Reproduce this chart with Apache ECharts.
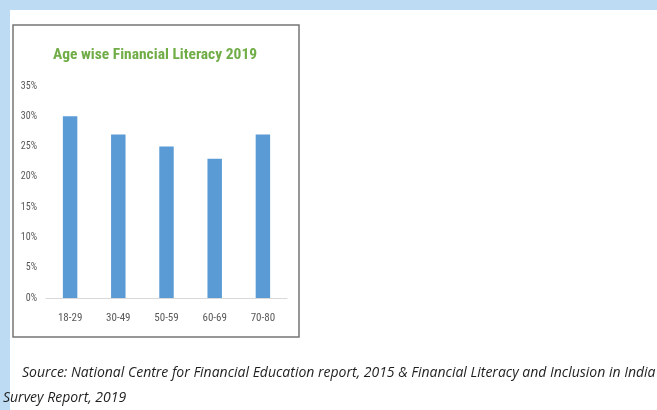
<!DOCTYPE html>
<html>
<head>
<meta charset="utf-8">
<script src="https://cdn.jsdelivr.net/npm/echarts@6/dist/echarts.min.js"></script>
<style>
  html, body { margin: 0; padding: 0; background: #ffffff; }
  #chart { width: 657px; height: 410px; }
</style>
</head>
<body>
<div id="chart"></div>
<script>
// Age groups and the share of financially literate adults in each (percent)
const ageGroups = ['18-29', '30-49', '50-59', '60-69', '70-80'];
const literacyPct = [30, 27, 25, 23, 27];
const titleText = 'Age wise Financial Literacy 2019';
const sourceLine1 = 'Source: National Centre for Financial Education report, 2015 & Financial Literacy and Inclusion in India';
const sourceLine2 = 'Survey Report, 2019';

const narrow = '"Liberation Sans Narrow", "Arial Narrow", "Roboto Condensed", "Liberation Sans", sans-serif';
const noteFont = '"Open Sans", "Noto Sans", sans-serif';

const chart = echarts.init(document.getElementById('chart'), null, { renderer: 'canvas' });

chart.setOption({
  backgroundColor: '#ffffff',
  animation: false,
  grid: {
    left: 46,
    right: 370,
    top: 86,
    bottom: 112,
    containLabel: false
  },
  xAxis: {
    type: 'category',
    data: ageGroups,
    axisLine: { show: true, lineStyle: { color: '#d9d9d9', width: 1 } },
    axisTick: { show: false },
    axisLabel: {
      margin: 15,
      fontFamily: narrow,
      fontSize: 11,
      color: '#595959'
    }
  },
  yAxis: {
    type: 'value',
    min: 0,
    max: 35,
    interval: 5,
    splitLine: { show: false },
    axisLine: { show: false },
    axisTick: { show: false },
    axisLabel: {
      margin: 9,
      formatter: '{value}%',
      fontFamily: narrow,
      fontSize: 10,
      color: '#595959'
    }
  },
  series: [{
    type: 'bar',
    data: literacyPct,
    barWidth: '30%',
    itemStyle: { color: '#5b9bd5' }
  }],
  graphic: [
    // page frame: light blue strips on top and left
    { type: 'rect', z: -10, shape: { x: 0, y: 0, width: 657, height: 10 }, style: { fill: '#bddcf3' } },
    { type: 'rect', z: -10, shape: { x: 0, y: 0, width: 10, height: 410 }, style: { fill: '#bddcf3' } },
    // chart box border
    { type: 'rect', z: -5, shape: { x: 13, y: 25, width: 286, height: 312 },
      style: { fill: 'none', stroke: '#767676', lineWidth: 1.5 } },
    // chart title
    { type: 'text', x: 155, y: 55,
      style: { text: titleText, fontFamily: narrow, fontSize: 15.5, fontWeight: 'bold',
               fill: '#70ad47', align: 'center', verticalAlign: 'middle' } },
    // source note
    { type: 'text', x: 22, y: 373,
      style: { text: sourceLine1, fontFamily: noteFont, fontStyle: 'italic',
               fontSize: 14, fill: '#1f1f1f', verticalAlign: 'middle' } },
    { type: 'text', x: 3, y: 398,
      style: { text: sourceLine2, fontFamily: noteFont, fontStyle: 'italic',
               fontSize: 14, fill: '#1f1f1f', verticalAlign: 'middle' } }
  ]
});
</script>
</body>
</html>
